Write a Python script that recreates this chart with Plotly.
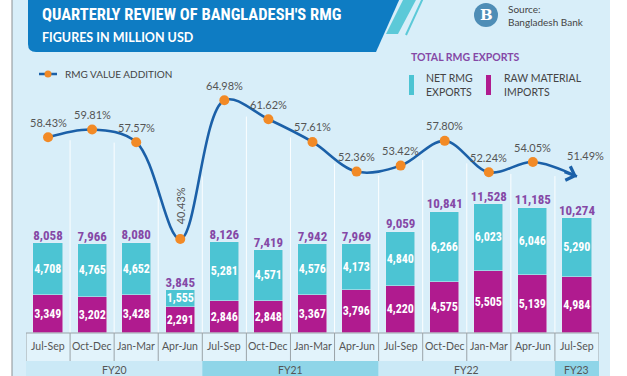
import plotly.graph_objects as go

# ---------------- data ----------------
quarters = ["Jul-Sep", "Oct-Dec", "Jan-Mar", "Apr-Jun",
            "Jul-Sep", "Oct-Dec", "Jan-Mar", "Apr-Jun",
            "Jul-Sep", "Oct-Dec", "Jan-Mar", "Apr-Jun",
            "Jul-Sep"]
fiscal_years = ["FY20", "FY21", "FY22", "FY23"]
fy_counts = [4, 4, 4, 1]
net_exports = [4708, 4765, 4652, 1555, 5281, 4571, 4576, 4173, 4840, 6266, 6023, 6046, 5290]
raw_imports = [3349, 3202, 3428, 2291, 2846, 2848, 3367, 3796, 4220, 4575, 5505, 5139, 4984]
total_exports = [8058, 7966, 8080, 3845, 8126, 7419, 7942, 7969, 9059, 10841, 11528, 11185, 10274]
value_addition = [58.43, 59.81, 57.57, 40.43, 64.98, 61.62, 57.61, 52.36, 53.42, 57.80, 52.24, 54.05, 51.49]

# ---------------- style ----------------
W, H = 627, 376
PANEL = "#d8eef9"
CYAN = "#4cc4d3"
MAGENTA = "#b01b8f"
PURPLE = "#8548a6"
LINE = "#1b60a8"
ORANGE = "#f28a26"
BANNER = "#0e7cc3"
GREY_TXT = "#555555"
NARROW = "Roboto Condensed, Roboto, sans-serif"
SANS = "Lato, Open Sans, sans-serif"

def px(x):
    return x / W

def py(y):
    return 1 - y / H

X_L, X_R = 26, 599        # category band in pixels
Y_BASE = 333              # bar baseline
Y_ROW2 = 361

n = len(quarters)
xs = list(range(n))

# value scales (pixel per unit), chosen from reference layout
bar_scale = 0.0112
y_range = [0, Y_BASE / bar_scale]
pct_scale = 5.65
pct_ref_val, pct_ref_px = 64.98, 100.3
y2_range = [pct_ref_val - (Y_BASE - pct_ref_px) / pct_scale,
            pct_ref_val + pct_ref_px / pct_scale]

fig = go.Figure()

bar_font = dict(family=NARROW, size=12, color="white", weight="bold")
fig.add_trace(go.Bar(
    x=xs, y=raw_imports, marker_color=MAGENTA, width=0.66,
    text=[f"{v:,}" for v in raw_imports], textposition="inside",
    insidetextanchor="middle", textangle=0, constraintext="none",
    textfont=bar_font, showlegend=False, hoverinfo="skip"))
fig.add_trace(go.Bar(
    x=xs, y=net_exports, marker_color=CYAN, width=0.66,
    text=[f"{v:,}" for v in net_exports], textposition="inside",
    insidetextanchor="middle", textangle=0, constraintext="none",
    textfont=bar_font, showlegend=False, hoverinfo="skip"))
fig.add_trace(go.Scatter(
    x=xs, y=total_exports, mode="text",
    text=[f"{v:,}" for v in total_exports], textposition="top center",
    textfont=dict(family=NARROW, size=13, color=PURPLE, weight="bold"),
    showlegend=False, hoverinfo="skip"))

fig.add_trace(go.Scatter(
    x=xs, y=value_addition, yaxis="y2", mode="lines",
    line=dict(color=LINE, width=2.6, shape="spline", smoothing=1.0),
    showlegend=False, hoverinfo="skip"))
fig.add_trace(go.Scatter(
    x=xs[:-1], y=value_addition[:-1], yaxis="y2", mode="markers",
    marker=dict(color=ORANGE, size=10),
    showlegend=False, hoverinfo="skip"))

shapes = []
annotations = []

def note(x, y, text, font, xanchor="center", yanchor="middle", **kw):
    d = dict(x=x, y=y, text=text, font=font, xanchor=xanchor, yanchor=yanchor,
             showarrow=False)
    d.setdefault("xref", "paper")
    d.setdefault("yref", "paper")
    d.update(kw)
    annotations.append(d)

# panel
shapes.append(dict(type="rect", xref="paper", yref="paper", layer="below",
                   x0=px(12), x1=px(610), y0=py(377), y1=py(-1),
                   fillcolor=PANEL, line=dict(width=0)))
shapes.append(dict(type="line", xref="paper", yref="paper",
                   x0=px(12), x1=px(12), y0=py(377), y1=py(-1),
                   line=dict(color="#8a8f93", width=1)))

# banner
def path(points):
    return "M " + " L ".join(f"{px(a)},{py(b)}" for a, b in points) + " Z"

banner_path = (f"M {px(28)},{py(-2)} L {px(400)},{py(-2)} L {px(376)},{py(52)} "
               f"L {px(36)},{py(52)} Q {px(28)},{py(52)} {px(28)},{py(44)} Z")
shapes.append(dict(type="path", xref="paper", yref="paper", path=banner_path,
                   fillcolor=BANNER, line=dict(width=0)))
shapes.append(dict(type="path", xref="paper", yref="paper",
                   path=path([(404, -2), (417, -2), (398, 34), (386, 34)]),
                   fillcolor="#5cc9d8", line=dict(width=0)))
shapes.append(dict(type="line", xref="paper", yref="paper",
                   x0=px(423), y0=py(-2), x1=px(406), y1=py(35),
                   line=dict(color="#5cc9d8", width=2)))

# category rows
shapes.append(dict(type="rect", xref="x", yref="paper", layer="below",
                   x0=-0.5, x1=n - 0.5, y0=py(Y_ROW2), y1=py(Y_BASE),
                   fillcolor="#e2f3fb", line=dict(width=0)))
start = 0
for i, (fy, cnt) in enumerate(zip(fiscal_years, fy_counts)):
    fill = "#cbe9f6" if i % 2 == 0 else "#8fd5e8"
    shapes.append(dict(type="rect", xref="x", yref="paper", layer="below",
                       x0=start - 0.5, x1=start + cnt - 0.5, y0=py(377), y1=py(Y_ROW2),
                       fillcolor=fill, line=dict(width=0)))
    note(start + (cnt - 1) / 2, py(369.5), fy,
         dict(family=SANS, size=10.5, color=GREY_TXT), xref="x")
    start += cnt

shapes.append(dict(type="line", xref="x", yref="paper",
                   x0=-0.5, x1=n - 0.5, y0=py(Y_BASE), y1=py(Y_BASE),
                   line=dict(color="#9aa3a8", width=1)))
for k in range(n + 1):
    shapes.append(dict(type="line", xref="x", yref="paper",
                       x0=k - 0.5, x1=k - 0.5, y0=py(Y_ROW2), y1=py(Y_BASE),
                       line=dict(color="#9aa3a8", width=1)))
for i, q in enumerate(quarters):
    note(i, py(345.5), q, dict(family=SANS, size=10.5, color=GREY_TXT), xref="x")

# white column separators under the curve
for k in range(n - 1):
    top = (value_addition[k] + value_addition[k + 1]) / 2 - 1.2
    shapes.append(dict(type="line", xref="x", yref="y2", layer="below",
                       x0=k + 0.5, x1=k + 0.5, y0=y2_range[0], y1=top,
                       line=dict(color="rgba(255,255,255,0.9)", width=1)))

# percentage labels
for i, v in enumerate(value_addition):
    kw = dict(xref="x", yref="y2", yshift=15)
    if i == 3:
        kw.update(textangle=-90, yshift=33)
    if i == n - 1:
        kw.update(xshift=9, yshift=21)
    note(i, v, f"{v:.2f}%", dict(family=SANS, size=11, color=GREY_TXT), **kw)

# arrow at the end of the line
annotations.append(dict(xref="x", yref="y2", x=xs[-1], y=value_addition[-1],
                        axref="pixel", ayref="pixel", ax=-14, ay=-5,
                        showarrow=True, arrowhead=4, arrowsize=1.1, arrowwidth=2.6,
                        arrowcolor=LINE, text=""))

# header texts
note(px(40), py(15), "QUARTERLY REVIEW OF BANGLADESH'S RMG",
     dict(family=NARROW, size=16.5, color="white", weight="bold"), xanchor="left")
note(px(40), py(37), "FIGURES IN MILLION USD",
     dict(family=SANS, size=12.5, color="white", weight="bold"), xanchor="left")

# source
shapes.append(dict(type="circle", xref="paper", yref="paper",
                   x0=px(474), x1=px(498), y0=py(27), y1=py(3),
                   fillcolor="#4e8db6", line=dict(width=0)))
note(px(486), py(15), "B",
     dict(family="DejaVu Serif, serif", size=15, color="white", weight="bold"))
note(px(506), py(16), "Source:<br>Bangladesh Bank",
     dict(family=SANS, size=10, color="#444444"), xanchor="left", align="left")

# legends
note(px(409), py(57), "TOTAL RMG EXPORTS",
     dict(family=SANS, size=10.5, color=PURPLE, weight="bold"), xanchor="left")
shapes.append(dict(type="rect", xref="paper", yref="paper",
                   x0=px(409), x1=px(414), y0=py(95), y1=py(75),
                   fillcolor=CYAN, line=dict(width=0)))
shapes.append(dict(type="rect", xref="paper", yref="paper",
                   x0=px(486), x1=px(491), y0=py(95), y1=py(75),
                   fillcolor=MAGENTA, line=dict(width=0)))
note(px(424), py(85), "NET RMG<br>EXPORTS",
     dict(family=SANS, size=10.5, color="#444444"), xanchor="left", align="left")
note(px(502), py(85), "RAW MATERIAL<br>IMPORTS",
     dict(family=SANS, size=10.5, color="#444444"), xanchor="left", align="left")

shapes.append(dict(type="line", xref="paper", yref="paper",
                   x0=px(39), x1=px(57), y0=py(74), y1=py(74),
                   line=dict(color=LINE, width=2.5)))
shapes.append(dict(type="circle", xref="paper", yref="paper",
                   x0=px(44.5), x1=px(51.5), y0=py(77.5), y1=py(70.5),
                   fillcolor=ORANGE, line=dict(width=0)))
note(px(63), py(74), "RMG VALUE ADDITION",
     dict(family=SANS, size=10, color="#444444"), xanchor="left")

fig.update_layout(
    width=W, height=H,
    margin=dict(l=0, r=0, t=0, b=0),
    paper_bgcolor="white", plot_bgcolor="rgba(0,0,0,0)",
    barmode="stack", bargap=0,
    xaxis=dict(domain=[px(X_L), px(X_R)], range=[-0.5, n - 0.5], visible=False, fixedrange=True),
    yaxis=dict(domain=[1 - Y_BASE / H, 1], range=y_range, visible=False, fixedrange=True),
    yaxis2=dict(domain=[1 - Y_BASE / H, 1], range=y2_range, overlaying="y",
                visible=False, fixedrange=True),
    shapes=shapes, annotations=annotations,
    showlegend=False,
)

fig.write_html("out.html", config={"displayModeBar": False},
               post_script="document.body.style.margin='0px';document.body.style.overflow='hidden';")
